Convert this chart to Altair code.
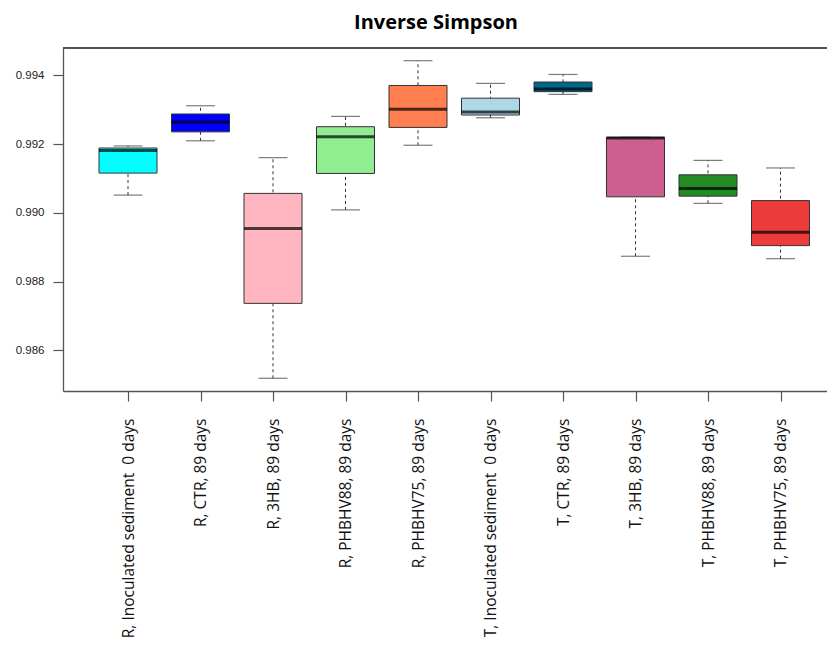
import altair as alt
import pandas as pd

groups = [
    "R, Inoculated sediment\u00a0 0 days",
    "R, CTR, 89 days",
    "R, 3HB, 89 days",
    "R, PHBHV88, 89 days",
    "R, PHBHV75, 89 days",
    "T, Inoculated sediment\u00a0 0 days",
    "T, CTR, 89 days",
    "T, 3HB, 89 days",
    "T, PHBHV88, 89 days",
    "T, PHBHV75, 89 days",
]
lower = [0.99052, 0.99210, 0.98519, 0.99009, 0.99197, 0.99277, 0.99345, 0.98874, 0.99028, 0.98867]
q1 = [0.99116, 0.99236, 0.98737, 0.99115, 0.99249, 0.99285, 0.99353, 0.99047, 0.99049, 0.98905]
median = [0.99182, 0.99265, 0.98955, 0.99222, 0.99302, 0.99294, 0.99361, 0.99218, 0.99071, 0.98944]
q3 = [0.99189, 0.99288, 0.99057, 0.99251, 0.99371, 0.99334, 0.99381, 0.99220, 0.99111, 0.99036]
upper = [0.99195, 0.99312, 0.99161, 0.99281, 0.99443, 0.99377, 0.99403, 0.99220, 0.99153, 0.99131]
colors = ["#00FFFF", "#0000FF", "#FFB6C1", "#90EE90", "#FF7F50",
          "#ADD8E6", "#00688B", "#CD6090", "#228B22", "#EE3B3B"]
y_ticks = [0.986, 0.988, 0.990, 0.992, 0.994]

df = pd.DataFrame({"group": groups, "lower": lower, "q1": q1, "median": median,
                   "q3": q3, "upper": upper})

xscale = alt.Scale(type="point", padding=0.769, align=0.583)
yscale = alt.Scale(domain=[0.98482, 0.9948], nice=False, zero=False)

X = alt.X("group:N", sort=groups, scale=xscale,
          axis=alt.Axis(title=None, labelAngle=-90, labelFont="Open Sans", labelFontSize=15.5,
                        labelColor="#111", labelPadding=17, tickSize=10, tickColor="#555",
                        domainColor="#555", domainWidth=1.3, tickWidth=1.2,
                        labelLimit=400, grid=False))
Y_axis = alt.Axis(title=None, values=y_ticks, format=".3f", labelFont="Liberation Sans",
                  labelFontSize=11.5, labelColor="#222", labelPadding=9, tickSize=10,
                  tickColor="#555", domainColor="#555", domainWidth=1.3, tickWidth=1.2,
                  grid=False)

base = alt.Chart(df)

whisk = base.mark_rule(strokeDash=[3, 3], color="#333", strokeWidth=1).encode(
    x=X, y=alt.Y("lower:Q", scale=yscale, axis=Y_axis), y2="upper:Q")
cap_hi = base.mark_tick(orient="horizontal", size=29, thickness=1.2, color="#444").encode(
    x=X, y=alt.Y("upper:Q", scale=yscale))
cap_lo = base.mark_tick(orient="horizontal", size=29, thickness=1.2, color="#444").encode(
    x=X, y=alt.Y("lower:Q", scale=yscale))
box = base.mark_bar(size=58, stroke="#333", strokeWidth=1).encode(
    x=X, y=alt.Y("q1:Q", scale=yscale), y2="q3:Q",
    color=alt.Color("group:N", scale=alt.Scale(domain=groups, range=colors), legend=None))
med = base.mark_tick(orient="horizontal", size=58, thickness=3, color="black").encode(
    x=X, y=alt.Y("median:Q", scale=yscale))
frame_top = alt.Chart(df).mark_rule(color="#555", strokeWidth=1.3).encode(
    x=alt.value(0), x2=alt.value(764), y=alt.value(0))

chart = alt.layer(whisk, cap_hi, cap_lo, box, med, frame_top).properties(
    width=764, height=343,
    autosize=alt.AutoSizeParams(type="none"),
    padding={"left": 55, "top": 40, "right": 0, "bottom": 256},
    title=alt.TitleParams("Inverse Simpson", font="Open Sans", fontSize=20, fontWeight="bold",
                          color="black", anchor="middle", dx=-9, offset=14),
).configure_view(stroke=None)

chart.save("out.html", embed_options={"renderer": "svg", "actions": False})
